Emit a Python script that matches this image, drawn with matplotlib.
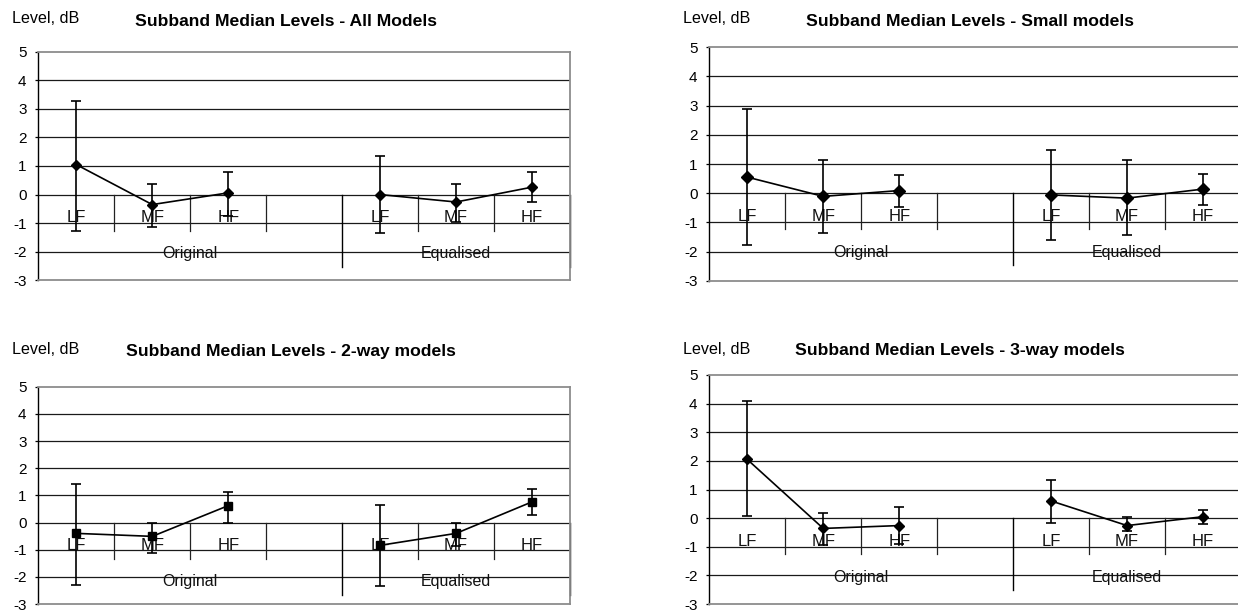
import numpy as np
import matplotlib
matplotlib.use("Agg")
import matplotlib.pyplot as plt

""" Font """
plt.rcParams['font.family'] = ['Liberation Sans', 'DejaVu Sans']
plt.rcParams['axes.unicode_minus'] = False

""" Data """
categories = ["LF", "MF", "HF", "", "LF", "MF", "HF"]
groups = ["Original", "Equalised"]
group_first = [0, 4]     # first category index of each group
group_last = [3, 6]      # last category index of each group
band_pos = [[0, 1, 2], [4, 5, 6]]   # categories holding a value, per group

all_med = [1.05, -0.35, 0.06, 0.00, -0.26, 0.26]
all_hi = [3.28, 0.36, 0.78, 1.36, 0.36, 0.78]
all_lo = [-1.26, -1.13, -0.75, -1.36, -0.95, -0.27]

small_med = [0.55, -0.11, 0.09, -0.06, -0.17, 0.14]
small_hi = [2.87, 1.12, 0.61, 1.47, 1.12, 0.66]
small_lo = [-1.76, -1.35, -0.47, -1.60, -1.45, -0.42]

two_med = [-0.40, -0.51, 0.62, -0.84, -0.40, 0.76]
two_hi = [1.42, 0.00, 1.11, 0.63, 0.00, 1.23]
two_lo = [-2.30, -1.12, 0.00, -2.34, -0.85, 0.26]

three_med = [2.05, -0.36, -0.26, 0.60, -0.26, 0.05]
three_hi = [4.09, 0.19, 0.39, 1.32, 0.05, 0.30]
three_lo = [0.09, -0.95, -0.92, -0.17, -0.45, -0.21]

y_ticks = list(range(-3, 6))

W, H = 1238, 613
fig = plt.figure(figsize=(W / 100, H / 100), dpi=100)


def px_axes(x0, x1, ytop, ybot):
    # axes from pixel box (origin top-left)
    return fig.add_axes([x0 / W, 1 - ybot / H, (x1 - x0) / W, (ybot - ytop) / H])


def draw_panel(box, title, title_x, text_base, med, hi, lo, marker, ms):
    x0, x1, ytop, ybot = box
    ax = px_axes(x0, x1, ytop, ybot)
    px_unit = (ybot - ytop) / (y_ticks[-1] - y_ticks[0])

    ax.set_xlim(-0.5, len(categories) - 0.5)
    ax.set_ylim(y_ticks[0], y_ticks[-1])
    ax.set_yticks(y_ticks)
    ax.set_xticks([])
    ax.tick_params(axis='y', direction='out', length=2.5, width=0.9, pad=6,
                   labelsize=11, colors='black')
    ax.grid(axis='y', color='#1a1a1a', lw=0.9)
    ticks = ax.yaxis.get_major_ticks()
    ticks[0].gridline.set_visible(False)
    ticks[-1].gridline.set_visible(False)

    for side in ['top', 'right', 'bottom']:
        ax.spines[side].set_color('#8c8c8c')
        ax.spines[side].set_linewidth(1.3)
    ax.spines['left'].set_color('black')
    ax.spines['left'].set_linewidth(1.0)

    # category axis crossing at 0
    short = 36 / px_unit
    long = 72 / px_unit
    for g in range(len(groups)):
        for i in range(group_first[g], group_last[g]):
            ax.plot([i + 0.5, i + 0.5], [0, -short], color='#222222', lw=0.9,
                    clip_on=False)
        ax.plot([group_last[g] + 0.5] * 2, [0, -long], color='black', lw=1.0,
                clip_on=False)
        ax.annotate(groups[g], ((group_first[g] + group_last[g]) / 2, 0),
                    xytext=(0, -59 * 0.72), textcoords='offset points',
                    ha='center', va='center', fontsize=11.5, color='#111111')
    for i, lbl in enumerate(categories):
        if lbl:
            ax.annotate(lbl, (i, 0), xytext=(0, -23 * 0.72),
                        textcoords='offset points', ha='center', va='center',
                        fontsize=12, color='#111111')

    # median line with spread bars, broken between groups
    xs = [p for grp in band_pos for p in grp]
    med = np.array(med)
    err = [med - np.array(lo), np.array(hi) - med]
    ax.errorbar(xs, med, yerr=err, fmt='none', ecolor='black', elinewidth=1.2,
                capsize=3.8, capthick=1.2, zorder=3)
    k = 0
    for grp in band_pos:
        n = len(grp)
        ax.plot(grp, med[k:k + n], color='black', lw=1.2, marker=marker,
                ms=ms, mfc='black', mec='black', zorder=4)
        k += n

    fig.text((x0 - 26) / W, 1 - text_base[0] / H, "Level, dB", fontsize=11.6,
             ha='left', va='baseline')
    fig.text(title_x / W, 1 - text_base[1] / H, title, fontsize=12.6,
             fontweight='bold', ha='center', va='baseline')
    return ax


draw_panel((38.3, 570, 51.7, 280.3), "Subband Median Levels - All Models", 286,
           (22.7, 26), all_med, all_hi, all_lo, 'D', 4.8)
draw_panel((709.3, 1241, 47.3, 280.7), "Subband Median Levels - Small models", 970,
           (23.3, 26), small_med, small_hi, small_lo, 'D', 6.4)
draw_panel((38.3, 570, 386.7, 604), "Subband Median Levels - 2-way models", 291,
           (354.3, 355.7), two_med, two_hi, two_lo, 's', 5.8)
draw_panel((709.3, 1241, 375, 604), "Subband Median Levels - 3-way models", 960,
           (354.3, 355.5), three_med, three_hi, three_lo, 'D', 4.8)

fig.savefig("out.png", dpi=100)
